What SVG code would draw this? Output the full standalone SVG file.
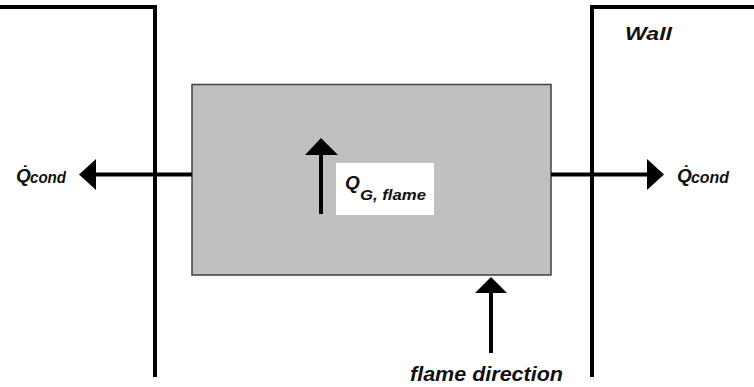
<svg xmlns="http://www.w3.org/2000/svg" width="754" height="387" viewBox="0 0 754 387">
  <style>
    .wall { fill: none; stroke: #000; stroke-width: 4; }
    .lbl { font-family: "Liberation Sans", Arial, sans-serif; font-weight: bold; font-style: italic; fill: #111; }
    .conn { stroke: #000; stroke-width: 4; fill: none; }
    .head { fill: #000; stroke: none; }
  </style>
  <rect x="0" y="0" width="754" height="387" fill="#fff"/>
  <g id="wall-left">
    <polyline class="wall" points="0,7 155,7 155,377"/>
  </g>
  <g id="wall-right">
    <polyline class="wall" points="592,377 592,7 754,7"/>
    <text class="lbl" x="625" y="40" font-size="19" textLength="47" lengthAdjust="spacingAndGlyphs">Wall</text>
  </g>
  <g id="flame-box">
    <rect x="192" y="84.5" width="359" height="190.5" fill="#c0c0c0" stroke="#404040" stroke-width="1.5"/>
  </g>
  <g id="qg-label">
    <rect x="336" y="163" width="98" height="52" fill="#fff"/>
    <text class="lbl" x="345" y="189" font-size="19">Q</text>
    <text class="lbl" x="360" y="200" font-size="15" textLength="66" lengthAdjust="spacingAndGlyphs">G, flame</text>
  </g>
  <g id="qcond-left">
    <text class="lbl" x="16" y="182" font-size="19">Q̇</text>
    <text class="lbl" x="30" y="183" font-size="16" textLength="36" lengthAdjust="spacingAndGlyphs">cond</text>
  </g>
  <g id="qcond-right">
    <text class="lbl" x="677" y="182" font-size="19">Q̇</text>
    <text class="lbl" x="691" y="183" font-size="16" textLength="38" lengthAdjust="spacingAndGlyphs">cond</text>
  </g>
  <g id="flame-direction-label">
    <text class="lbl" x="410" y="381" font-size="21" textLength="153" lengthAdjust="spacingAndGlyphs">flame direction</text>
  </g>
  <g id="connectors">
    <line class="conn" x1="192" y1="174.5" x2="94" y2="174.5"/>
    <polygon class="head" points="79,174.5 96,159 96,190"/>
    <line class="conn" x1="551" y1="174.5" x2="648" y2="174.5"/>
    <polygon class="head" points="664,174.5 647,159 647,190"/>
    <line class="conn" x1="321" y1="214" x2="321" y2="154"/>
    <polygon class="head" points="321,138 305,155 338,155"/>
    <line class="conn" x1="491" y1="353" x2="491" y2="292"/>
    <polygon class="head" points="491,277 475,293 507,293"/>
  </g>
</svg>
